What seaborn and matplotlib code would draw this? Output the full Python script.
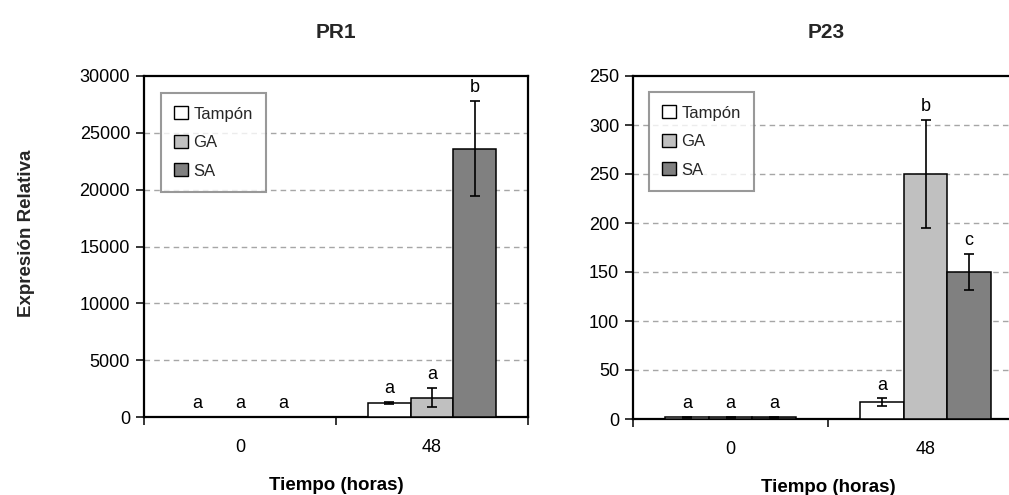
import matplotlib
matplotlib.use("Agg")
import matplotlib.pyplot as plt
import seaborn as sns
import pandas as pd
import numpy as np

# ---- data ----
tiempos = ["0", "48"]
tratamientos = ["Tampón", "GA", "SA"]
colores = ["#FFFFFF", "#C0C0C0", "#808080"]

pr1_media = {"Tampón": [1, 1250], "GA": [1, 1700], "SA": [1, 23600]}
pr1_error = {"Tampón": [0, 100], "GA": [0, 850], "SA": [0, 4200]}
pr1_letras = {"Tampón": ["a", "a"], "GA": ["a", "a"], "SA": ["a", "b"]}
pr1_yticks = [0, 5000, 10000, 15000, 20000, 25000, 30000]
pr1_yticklabels = ["0", "5000", "10000", "15000", "20000", "25000", "30000"]

p23_media = {"Tampón": [2, 17], "GA": [2, 250], "SA": [2, 150]}
p23_error = {"Tampón": [0.5, 4], "GA": [0.5, 55], "SA": [0.5, 18]}
p23_letras = {"Tampón": ["a", "a"], "GA": ["a", "b"], "SA": ["a", "c"]}
p23_yticks = [0, 50, 100, 150, 200, 250, 300, 350]
p23_yticklabels = ["0", "50", "100", "150", "200", "250", "300", "250"]

sns.set_theme(style="white")
plt.rcParams["font.family"] = ["Liberation Sans", "DejaVu Sans"]

W, H = 1009, 495
fig = plt.figure(figsize=(W / 100, H / 100), dpi=100)


def frac(x0, y_top, x1, y_bot):
    return [x0 / W, 1 - y_bot / H, (x1 - x0) / W, (y_bot - y_top) / H]


ax1 = fig.add_axes(frac(144, 76, 528, 417))
ax2 = fig.add_axes(frac(633, 76, 1023, 419))

TICK_FS = 13


def panel(ax, media, error, letras, yticks, yticklabels, ymax, legend_anchor):
    rows = []
    for t in tratamientos:
        for i, tm in enumerate(tiempos):
            rows.append({"Tiempo": tm, "Tratamiento": t,
                         "valor": media[t][i], "err": error[t][i],
                         "letra": letras[t][i]})
    df = pd.DataFrame(rows)
    sns.barplot(data=df, x="Tiempo", y="valor", hue="Tratamiento",
                order=tiempos, hue_order=tratamientos, palette=colores,
                edgecolor="black", linewidth=1.1, width=0.67,
                errorbar=None, saturation=1, ax=ax, zorder=3)

    for t, cont in zip(tratamientos, ax.containers):
        sub = df[df["Tratamiento"] == t].set_index("Tiempo").loc[tiempos]
        xs = [b.get_x() + b.get_width() / 2 for b in cont]
        ax.errorbar(xs, sub["valor"], yerr=sub["err"], fmt="none",
                    ecolor="black", elinewidth=1.2, capsize=3.6,
                    capthick=1.2, zorder=4)
        for x, v, e, l in zip(xs, sub["valor"], sub["err"], sub["letra"]):
            ax.annotate(l, (x, v + e), xytext=(0, 3.5),
                        textcoords="offset points", ha="center",
                        va="bottom", fontsize=TICK_FS, color="black")

    ax.set_xlim(-0.5, 1.5)
    ax.set_ylim(0, ymax)
    ax.set_yticks(yticks)
    ax.set_yticklabels(yticklabels)
    for y in yticks[1:-1]:
        ax.axhline(y, color="#A6A6A6", lw=1.0, ls=(0, (4, 3)), zorder=1)

    ax.set_xticks([0, 1])
    ax.set_xticklabels(tiempos)
    ax.set_xticks([-0.5, 0.5, 1.5], minor=True)
    ax.tick_params(axis="x", which="major", length=0, pad=16,
                   labelsize=TICK_FS, colors="black")
    ax.tick_params(axis="x", which="minor", length=6, width=1.1,
                   direction="out", color="black", bottom=True)
    ax.tick_params(axis="y", length=6, width=1.1, direction="out",
                   labelsize=TICK_FS, pad=4, colors="black", left=True)

    for s in ax.spines.values():
        s.set_visible(True)
        s.set_color("black")
        s.set_linewidth(1.6)

    ax.set_xlabel("Tiempo (horas)", fontsize=13.5, fontweight="bold",
                  labelpad=15, color="black")
    ax.set_ylabel("")

    handles = [plt.Rectangle((0, 0), 1, 1, facecolor=c, edgecolor="black",
                             linewidth=1.0) for c in colores]
    leg = ax.legend(handles, tratamientos, loc="upper left",
                    bbox_to_anchor=legend_anchor, borderaxespad=0,
                    fontsize=12, frameon=True, fancybox=False,
                    handlelength=0.8, handleheight=0.8, handletextpad=0.35,
                    labelspacing=0.8, borderpad=0.8, edgecolor="#808080")
    leg.get_frame().set_linewidth(1.5)
    leg.set_zorder(5)


panel(ax1, pr1_media, pr1_error, pr1_letras, pr1_yticks, pr1_yticklabels,
      30000, (0.044, 0.95))
panel(ax2, p23_media, p23_error, p23_letras, p23_yticks, p23_yticklabels,
      350, (0.041, 0.953))

fig.text(336 / W, 1 - 33 / H, "PR1", ha="center", va="center",
         fontsize=15, fontweight="bold")
fig.text(826 / W, 1 - 33 / H, "P23", ha="center", va="center",
         fontsize=15, fontweight="bold")
fig.text(27 / W, 1 - 233 / H, "Expresión Relativa", ha="center",
         va="center", rotation=90, fontsize=13.5, fontweight="bold")

fig.savefig("out.png", dpi=100, facecolor="white")
